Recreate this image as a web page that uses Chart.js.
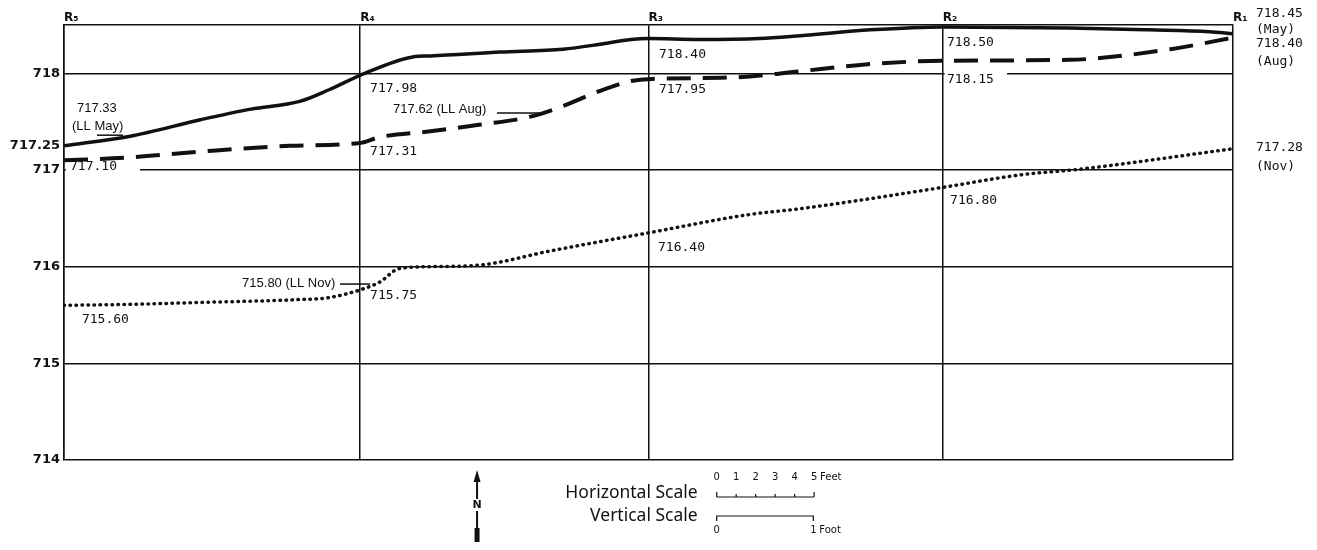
<!DOCTYPE html>
<html>
<head>
<meta charset="utf-8">
<script src="https://cdn.jsdelivr.net/npm/chart.js@4"></script>
<style>
  body { margin: 0; background: #fff; }
  #wrap { width: 1317px; height: 550px; }
</style>
</head>
<body>
<div id="wrap"><canvas id="profile"></canvas></div>
<script>
// stations along the profile (distance in feet)
const stationNames = ['R\u2085', 'R\u2084', 'R\u2083', 'R\u2082', 'R\u2081'];
const stationDist = [0, 15.2, 30, 45.1, 60];
const elevTicks = [714, 715, 716, 717, 717.25, 718];

// May profile (solid)
const mayX = [0, 3.4, 7.0, 9.6, 12.1, 13.6, 15.2, 17.9, 18.8, 22.4, 25.6, 27.5, 29.1, 30, 32.6, 35.7, 37.8, 41.4, 45.1, 51.6, 55.7, 58.8, 60];
const mayElev = [717.25, 717.35, 717.52, 717.63, 717.71, 717.83, 717.98, 718.17, 718.18, 718.22, 718.25, 718.30, 718.35, 718.36, 718.35, 718.36, 718.39, 718.45, 718.48, 718.47, 718.45, 718.43, 718.41];

// August profile (dashed)
const augX = [0, 3.4, 7.0, 11.6, 15.2, 16.2, 18.8, 21.4, 23.9, 25.6, 27.4, 29.1, 30, 34.6, 37.7, 41.0, 45.1, 51.6, 56.8, 60];
const augElev = [717.10, 717.13, 717.19, 717.25, 717.28, 717.34, 717.40, 717.47, 717.55, 717.66, 717.81, 717.92, 717.94, 717.96, 718.02, 718.09, 718.13, 718.14, 718.25, 718.37];

// November profile (dotted)
const novX = [0, 3.4, 7.0, 12.1, 13.6, 15.2, 16.2, 17.2, 18.8, 21.5, 24.9, 30, 35.2, 37.8, 45.1, 49.1, 52.2, 60];
const novElev = [715.60, 715.61, 715.63, 715.66, 715.68, 715.76, 715.84, 715.98, 716.00, 716.02, 716.16, 716.35, 716.54, 716.60, 716.82, 716.95, 717.01, 717.22];

const MONO = '13px "DejaVu Sans Mono"';
const SANS = '13px "Liberation Sans"';

// annotations (x in feet, y in elevation, left-aligned text)
const notes = [
  { t: '717.33', x: 0.67, y: 717.64, f: SANS },
  { t: '(LL May)', x: 0.41, y: 717.45, f: SANS },
  { t: '717.10', x: 0.31, y: 717.03, f: MONO },
  { t: '717.98', x: 15.71, y: 717.84, f: MONO },
  { t: '717.62 (LL Aug)', x: 16.89, y: 717.63, f: SANS },
  { t: '717.31', x: 15.71, y: 717.19, f: MONO },
  { t: '718.40', x: 30.54, y: 718.19, f: MONO },
  { t: '717.95', x: 30.54, y: 717.83, f: MONO },
  { t: '718.50', x: 45.32, y: 718.32, f: MONO },
  { t: '718.15', x: 45.32, y: 717.94, f: MONO },
  { t: '716.80', x: 45.48, y: 716.68, f: MONO },
  { t: '716.40', x: 30.49, y: 716.20, f: MONO },
  { t: '715.75', x: 15.71, y: 715.70, f: MONO },
  { t: '715.80 (LL Nov)', x: 9.14, y: 715.83, f: SANS },
  { t: '715.60', x: 0.92, y: 715.45, f: MONO },
  { t: '718.45', x: 61.18, y: 718.62, f: MONO },
  { t: '(May)', x: 61.18, y: 718.45, f: MONO },
  { t: '718.40', x: 61.18, y: 718.31, f: MONO },
  { t: '(Aug)', x: 61.18, y: 718.12, f: MONO },
  { t: '717.28', x: 61.18, y: 717.23, f: MONO },
  { t: '(Nov)', x: 61.18, y: 717.04, f: MONO }
];
const leaders = [
  { x0: 1.69, x1: 3.03, y: 717.36 },
  { x0: 22.22, x1: 24.43, y: 717.59 },
  { x0: 14.17, x1: 15.71, y: 715.82 }
];
// places where a label interrupts a grid line
const gaps = [
  { x0: 0.1, x1: 3.9, y: 717 },
  { x0: 45.2, x1: 48.4, y: 718 }
];

const toPts = (xs, ys) => xs.map((x, i) => ({ x: x, y: ys[i] }));

const profileNotes = {
  id: 'profileNotes',
  beforeDatasetsDraw(chart) {
    const { ctx, scales: { x, y } } = chart;
    ctx.save();
    ctx.fillStyle = '#fff';
    gaps.forEach(g => {
      const a = x.getPixelForValue(g.x0), b = x.getPixelForValue(g.x1);
      ctx.fillRect(a, y.getPixelForValue(g.y) - 2, b - a, 4);
    });
    ctx.restore();
  },
  afterDatasetsDraw(chart) {
    const { ctx, scales: { x, y } } = chart;
    ctx.save();
    ctx.fillStyle = '#111';
    ctx.textAlign = 'left';
    ctx.textBaseline = 'middle';
    notes.forEach(n => {
      ctx.font = n.f;
      ctx.fillText(n.t, x.getPixelForValue(n.x), y.getPixelForValue(n.y));
    });
    ctx.strokeStyle = '#111';
    ctx.lineWidth = 1.5;
    leaders.forEach(l => {
      const py = y.getPixelForValue(l.y);
      ctx.beginPath();
      ctx.moveTo(x.getPixelForValue(l.x0), py);
      ctx.lineTo(x.getPixelForValue(l.x1), py);
      ctx.stroke();
    });
    ctx.restore();
  },
  afterDraw(chart) {
    const { ctx, chartArea: ca, scales: { x, y } } = chart;
    ctx.save();
    ctx.fillStyle = '#111';
    ctx.strokeStyle = '#111';

    // north arrow
    const ax = x.getPixelForValue(21.2);
    const top = ca.bottom + 10;
    ctx.lineWidth = 2;
    ctx.beginPath();
    ctx.moveTo(ax, top + 8);
    ctx.lineTo(ax, ca.bottom + 70);
    ctx.stroke();
    ctx.beginPath();
    ctx.moveTo(ax, top);
    ctx.lineTo(ax - 3.5, top + 12);
    ctx.lineTo(ax + 3.5, top + 12);
    ctx.closePath();
    ctx.fill();
    ctx.font = 'bold 11px "DejaVu Sans"';
    ctx.textAlign = 'center';
    ctx.textBaseline = 'middle';
    ctx.fillStyle = '#fff';
    ctx.fillRect(ax - 4, ca.bottom + 39, 8, 12);
    ctx.fillStyle = '#111';
    ctx.fillText('N', ax, ca.bottom + 45);
    ctx.fillRect(ax - 2.5, ca.bottom + 68, 5, 14);

    // scale titles
    const sx0 = x.getPixelForValue(33.5), sx1 = x.getPixelForValue(38.5);
    ctx.font = '17.5px "Noto Sans"';
    ctx.textAlign = 'right';
    ctx.fillText('Horizontal Scale', sx0 - 19, ca.bottom + 33);
    ctx.fillText('Vertical Scale', sx0 - 19, ca.bottom + 56);

    // horizontal scale bar (5 ft)
    const hy = ca.bottom + 37;
    ctx.lineWidth = 1.2;
    ctx.beginPath();
    ctx.moveTo(sx0, hy);
    ctx.lineTo(sx1, hy);
    for (let i = 0; i <= 5; i++) {
      const px = x.getPixelForValue(33.5 + i);
      ctx.moveTo(px, hy);
      ctx.lineTo(px, hy - (i === 0 || i === 5 ? 5 : 3));
    }
    ctx.stroke();
    ctx.font = '10px "DejaVu Sans"';
    ctx.textAlign = 'center';
    for (let i = 0; i <= 5; i++) {
      ctx.fillText(String(i), x.getPixelForValue(33.5 + i), ca.bottom + 17);
    }
    ctx.textAlign = 'left';
    ctx.fillText('Feet', sx1 + 6, ca.bottom + 17);

    // vertical scale bar (1 ft in elevation units)
    const vLen = y.getPixelForValue(714) - y.getPixelForValue(715);
    const vy = ca.bottom + 56;
    ctx.beginPath();
    ctx.moveTo(sx0, vy + 5);
    ctx.lineTo(sx0, vy);
    ctx.lineTo(sx0 + vLen, vy);
    ctx.lineTo(sx0 + vLen, vy + 5);
    ctx.stroke();
    ctx.textAlign = 'center';
    ctx.fillText('0', sx0, ca.bottom + 70);
    ctx.fillText('1', sx0 + vLen, ca.bottom + 70);
    ctx.textAlign = 'left';
    ctx.fillText('Foot', sx0 + vLen + 6, ca.bottom + 70);
    ctx.restore();
  }
};

new Chart(document.getElementById('profile').getContext('2d'), {
  type: 'line',
  data: {
    datasets: [
      {
        label: 'May',
        data: toPts(mayX, mayElev),
        borderColor: '#111',
        borderWidth: 3.5
      },
      {
        label: 'Aug',
        data: toPts(augX, augElev),
        borderColor: '#111',
        borderWidth: 4,
        borderDash: [24, 12]
      },
      {
        label: 'Nov',
        data: toPts(novX, novElev),
        borderColor: '#111',
        borderWidth: 3.5,
        borderDash: [0.5, 5.5],
        borderCapStyle: 'round'
      }
    ]
  },
  options: {
    responsive: true,
    maintainAspectRatio: false,
    animation: false,
    layout: { padding: { top: 0, right: 84, bottom: 90, left: 0 } },
    elements: {
      point: { radius: 0 },
      line: { cubicInterpolationMode: 'monotone', fill: false }
    },
    plugins: {
      legend: { display: false },
      tooltip: { enabled: false }
    },
    scales: {
      x: {
        type: 'linear',
        position: 'top',
        min: 0,
        max: 60,
        afterBuildTicks: s => { s.ticks = stationDist.map(v => ({ value: v })); },
        afterFit: s => { s.height = 25; },
        border: { color: '#111', width: 1.5 },
        grid: { color: '#111', lineWidth: 1.5, drawTicks: false },
        ticks: {
          align: 'start',
          padding: 0,
          color: '#111',
          font: { family: 'DejaVu Sans', size: 12, weight: 'bold' },
          callback: (v, i) => stationNames[i]
        }
      },
      y: {
        min: 714,
        max: 718.5,
        afterBuildTicks: s => { s.ticks = elevTicks.map(v => ({ value: v })); },
        afterFit: s => { s.width = 64; },
        border: { color: '#111', width: 1.5 },
        grid: {
          color: c => (c.tick && c.tick.value === 717.25 ? 'rgba(0,0,0,0)' : '#111'),
          lineWidth: 1.5,
          drawTicks: false
        },
        ticks: {
          padding: 4,
          color: '#111',
          font: { family: 'DejaVu Sans', size: 13, weight: 'bold' },
          callback: v => String(v)
        }
      }
    }
  },
  plugins: [profileNotes]
});
</script>
</body>
</html>
